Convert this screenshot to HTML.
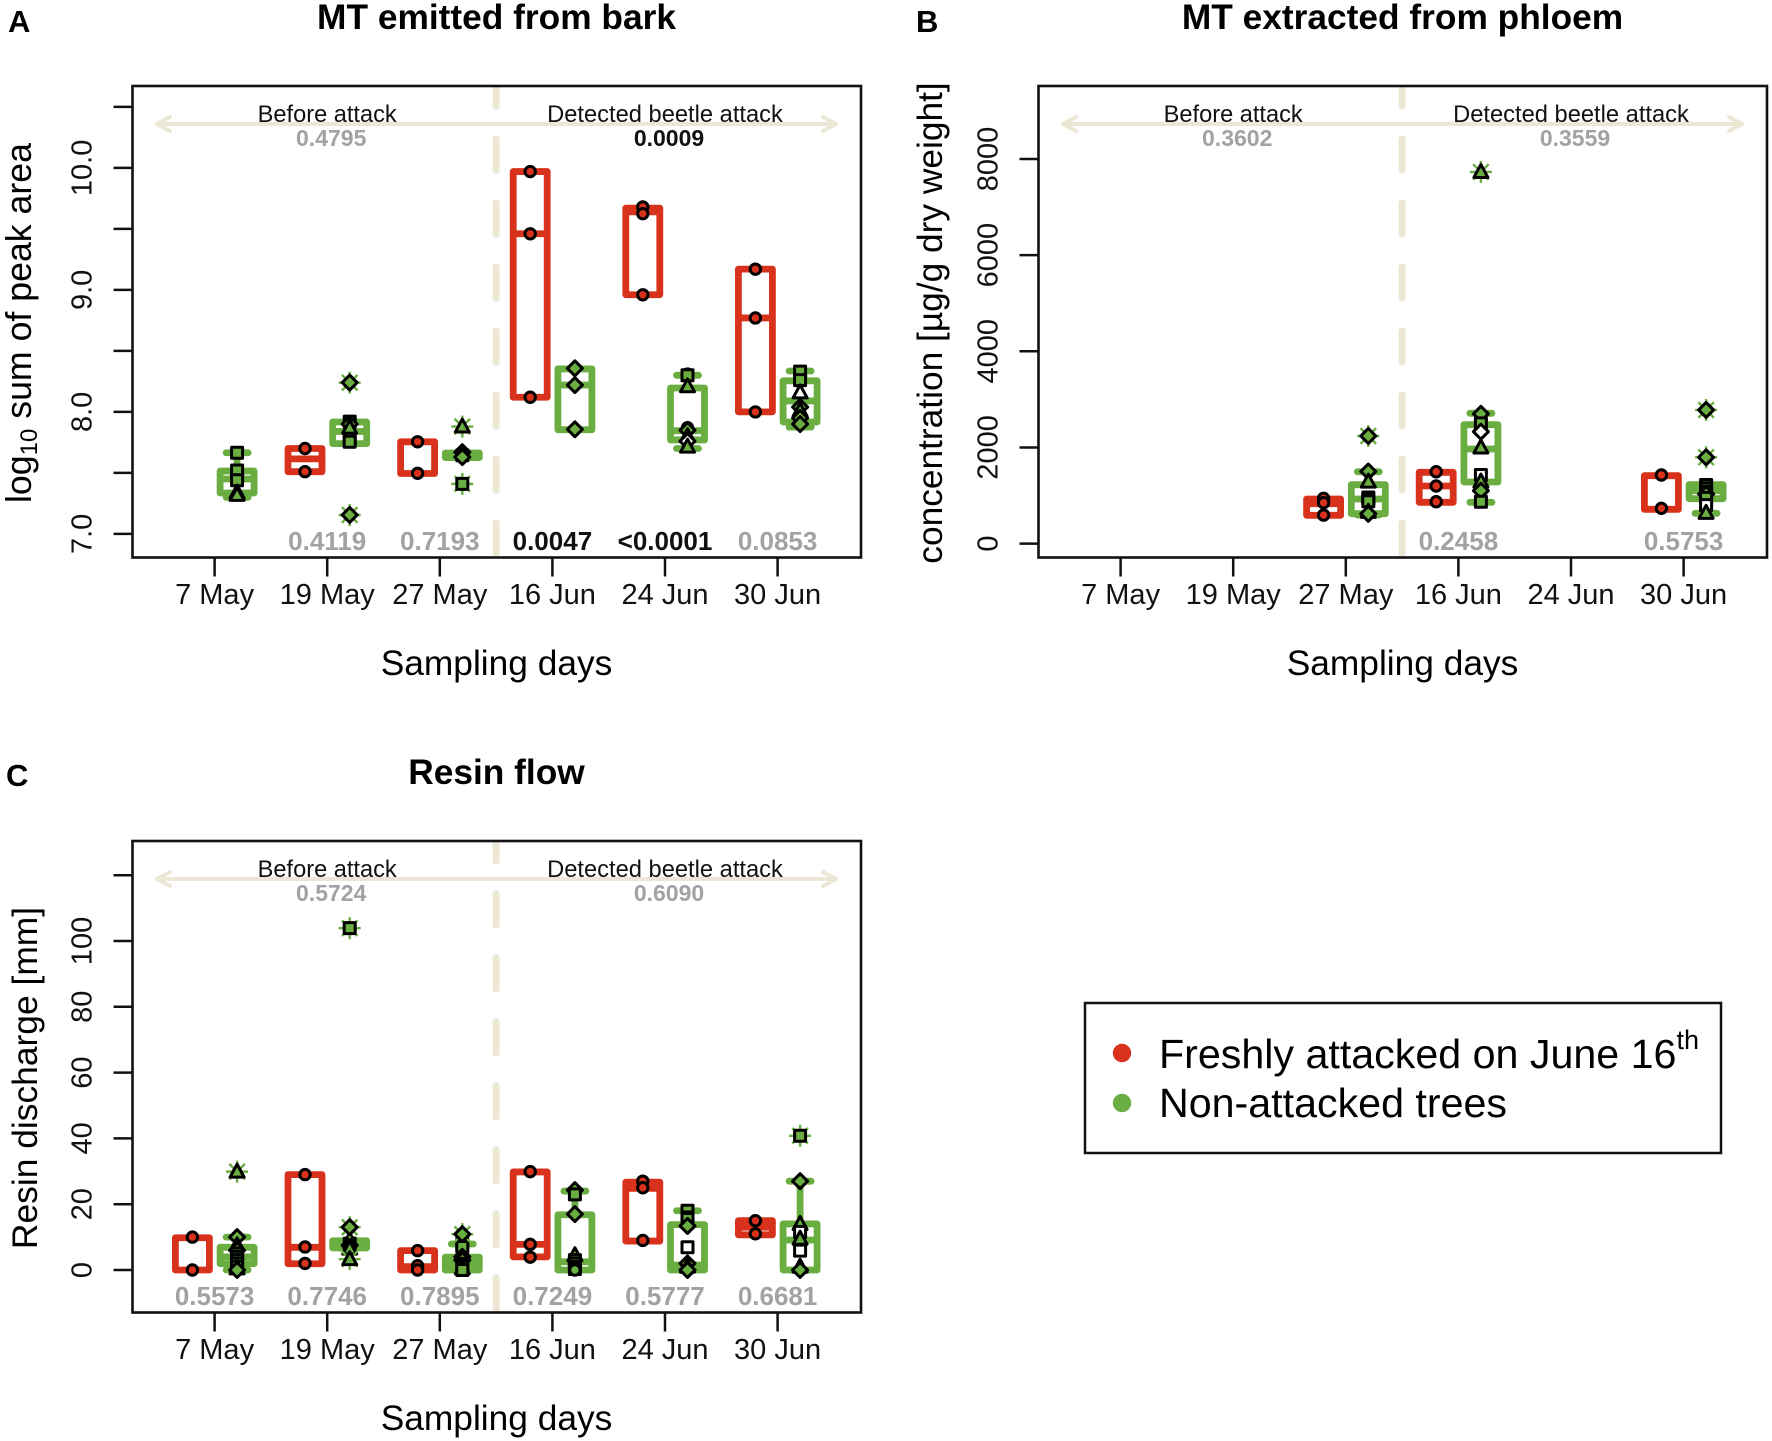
<!DOCTYPE html>
<html lang="en">
<head>
<meta charset="utf-8">
<title>Monoterpene emission, phloem concentration and resin flow</title>
<style>
html,body{margin:0;padding:0;background:#fff;width:1772px;height:1441px;overflow:hidden}
svg{display:block;font-family:"Liberation Sans",sans-serif}
</style>
</head>
<body>
<svg id="figure" width="1772" height="1441" viewBox="0 0 1772 1441" xmlns="http://www.w3.org/2000/svg">
  <rect width="1772" height="1441" fill="#fff"/>
  <g id="panel-a"></g>
  <g id="panel-b"></g>
  <g id="panel-c"></g>

  <text x="8" y="32" font-size="31" font-weight="bold">A</text>
  <text x="916" y="32" font-size="31" font-weight="bold">B</text>
  <text x="6" y="786" font-size="31" font-weight="bold">C</text>

  <text x="496.5" y="29" font-size="35.3" font-weight="bold" text-anchor="middle">MT emitted from bark</text>
  <text x="1402.5" y="29" font-size="35.3" font-weight="bold" text-anchor="middle">MT extracted from phloem</text>
  <text x="496.5" y="784" font-size="35.3" font-weight="bold" text-anchor="middle">Resin flow</text>

  <text transform="translate(31,323) rotate(-90)" font-size="35.7" text-anchor="middle">log<tspan font-size="24" dy="6">10</tspan><tspan dy="-6"> sum of peak area</tspan></text>
  <text transform="translate(942,323) rotate(-90)" font-size="35.3" text-anchor="middle">concentration [µg/g dry weight]</text>
  <text transform="translate(37,1078) rotate(-90)" font-size="35.4" text-anchor="middle">Resin discharge [mm]</text>

  <text x="496.5" y="675" font-size="35.3" text-anchor="middle">Sampling days</text>
  <text x="1402.5" y="675" font-size="35.3" text-anchor="middle">Sampling days</text>
  <text x="496.5" y="1430" font-size="35.3" text-anchor="middle">Sampling days</text>

  <g>
    <rect x="1085" y="1003" width="636" height="150" fill="#fff" stroke="#111" stroke-width="2.5"/>
    <circle cx="1122" cy="1053" r="9.2" fill="#d8321c"/>
    <circle cx="1122" cy="1103" r="9.2" fill="#6aad41"/>
    <text x="1159" y="1068" font-size="41.2">Freshly attacked on June 16<tspan font-size="27" dy="-19">th</tspan></text>
    <text x="1159" y="1117" font-size="41.2">Non-attacked trees</text>
  </g>
</svg>

<script>
const dates = ["7 May", "19 May", "27 May", "16 Jun", "24 Jun", "30 Jun"];

/* box rows: [whisker low, q1, median, q3, whisker high]; null = no box, null median = not visible */
const aTickValues = [7, 7.5, 8, 8.5, 9, 9.5, 10, 10.5];
const aTickLabels = ["7.0", "", "8.0", "", "9.0", "", "10.0", ""];
const aTopP = ["0.4795", "0.0009"];
const aBottomP = [null, "0.4119", "0.7193", "0.0047", "<0.0001", "0.0853"];
const aRedBoxes = [
  null,
  [7.51, 7.51, 7.615, 7.70, 7.70],
  [7.495, 7.495, null, 7.755, 7.755],
  [8.12, 8.12, 9.46, 9.97, 9.97],
  [8.96, 8.96, 9.64, 9.67, 9.67],
  [8.0, 8.0, 8.77, 9.17, 9.17]
];
const aRedPoints = [
  [],
  [7.70, 7.51],
  [7.755, 7.497],
  [9.97, 9.46, 8.12],
  [9.68, 9.625, 8.96],
  [9.17, 8.77, 8.0]
];
const aGreenBoxes = [
  [7.30, 7.335, 7.45, 7.515, 7.665],
  [7.74, 7.74, 7.84, 7.917, 7.917],
  [7.625, 7.625, 7.65, 7.663, 7.663],
  [7.854, 7.854, 8.22, 8.352, 8.352],
  [7.70, 7.77, 7.846, 8.196, 8.30],
  [7.875, 7.917, 8.09, 8.255, 8.335]
];
const aGreenPoints = [
  [[7.665, "S"], [7.52, "S"], [7.44, "S"], [7.34, "T"], [7.32, "T"]],
  [[7.92, "S"], [7.90, "D"], [7.87, "T"], [7.78, "S"], [7.755, "S"]],
  [[7.67, "D"], [7.655, "C"], [7.645, "s"], [7.63, "D"]],
  [[8.357, "D"], [8.22, "D"], [7.857, "D"]],
  [[8.31, "C"], [8.30, "S"], [8.21, "T"], [7.87, "C"], [7.85, "D"], [7.80, "T"], [7.76, "d"], [7.715, "T"]],
  [[8.33, "S"], [8.26, "S"], [8.16, "t"], [8.04, "D"], [8.01, "T"], [7.95, "D"], [7.90, "D"]]
];
const aGreenOutliers = [
  [],
  [[8.24, "D"], [7.155, "D"]],
  [[7.88, "T"], [7.41, "S"]],
  [],
  [],
  []
];

const bTickValues = [0, 2000, 4000, 6000, 8000];
const bTickLabels = ["0", "2000", "4000", "6000", "8000"];
const bTopP = ["0.3602", "0.3559"];
const bBottomP = [null, null, null, "0.2458", null, "0.5753"];
const bRedBoxes = [
  null,
  null,
  [588, 588, 830, 928, 928],
  [859, 859, 1198, 1483, 1483],
  null,
  [713, 713, null, 1412, 1412]
];
const bRedPoints = [
  [],
  [],
  [942, 850, 593],
  [1495, 1198, 871],
  [],
  [1427, 734]
];
const bGreenBoxes = [
  null,
  null,
  [595, 622, 928, 1225, 1495],
  [859, 1281, 1968, 2473, 2710],
  null,
  [630, 934, 1100, 1225, 1225]
];
const bGreenPoints = [
  [],
  [],
  [[1500, "D"], [1290, "T"], [960, "S"], [930, "S"], [880, "S"], [660, "T"], [620, "D"]],
  [[2700, "D"], [2500, "S"], [2327, "d"], [2000, "T"], [1427, "s"], [1290, "T"], [1100, "D"], [870, "S"]],
  [],
  [[1220, "S"], [1150, "S"], [1080, "S"], [1030, "D"], [950, "S"], [800, "s"], [640, "T"]]
];
const bGreenOutliers = [
  [],
  [],
  [[2238, "D"]],
  [[7730, "T"]],
  [],
  [[2779, "D"], [1795, "D"]]
];

const cTickValues = [0, 20, 40, 60, 80, 100, 120];
const cTickLabels = ["0", "20", "40", "60", "80", "100", ""];
const cTopP = ["0.5724", "0.6090"];
const cBottomP = ["0.5573", "0.7746", "0.7895", "0.7249", "0.5777", "0.6681"];
const cRedBoxes = [
  [0, 0, null, 9.8, 9.8],
  [1.9, 1.9, 6.9, 29, 29],
  [0, 0, 1, 5.9, 5.9],
  [4, 4, 7.8, 29.8, 29.8],
  [8.8, 8.8, 24.8, 26.7, 26.7],
  [10.7, 10.7, 13, 15, 15]
];
const cRedPoints = [
  [10, 0],
  [29, 7, 2],
  [5.9, 1.3, 0],
  [29.9, 7.8, 3.9],
  [27, 25, 9],
  [15, 11]
];
const cGreenBoxes = [
  [0, 1.9, 4, 6.9, 10],
  [6.7, 6.7, 7.8, 8.9, 8.9],
  [0, 0, 2, 3.9, 7.9],
  [0, 0, 2.5, 16.8, 24],
  [0, 0, 1.5, 13.8, 18],
  [0, 0, 9.1, 14, 27]
];
const cGreenPoints = [
  [[10, "D"], [7.5, "T"], [6, "D"], [5, "S"], [4, "S"], [3, "S"], [2, "S"], [1, "S"], [0.5, "T"], [0, "D"]],
  [[9, "T"], [8, "S"], [7.5, "D"], [7, "C"], [6.5, "T"]],
  [[8, "S"], [7, "S"], [4, "D"], [3, "D"], [2, "C"], [1, "S"], [0.5, "T"], [0, "S"]],
  [[24.3, "D"], [23, "S"], [17, "D"], [4.5, "T"], [3, "S"], [2, "S"], [1, "S"], [0.3, "S"], [0, "C"]],
  [[18, "S"], [16, "S"], [15.5, "S"], [13.4, "D"], [6.9, "s"], [2, "D"], [1, "T"], [0, "D"]],
  [[27, "D"], [14, "T"], [11.6, "s"], [9.5, "T"], [5.9, "s"], [1, "T"], [0, "D"]]
];
const cGreenOutliers = [
  [[29.9, "T"]],
  [[103.9, "S"], [13, "D"], [3.3, "T"]],
  [[10.9, "D"]],
  [],
  [],
  [[40.8, "S"]]
];

const RED = "#d8321c";
const GREEN = "#6aad41";
const SAND = "#ece7d5";
const INK = "#111";
const SVG_NS = "http://www.w3.org/2000/svg";

function make(parent, tag, attrs) {
  const el = document.createElementNS(SVG_NS, tag);
  for (const k in attrs) el.setAttribute(k, attrs[k]);
  parent.appendChild(el);
  return el;
}

function isSignificant(p) {
  return parseFloat(p.replace("<", "")) < 0.05;
}

function drawShape(parent, code, cx, cy, fillColor) {
  const kind = code.toLowerCase();
  const fill = code === kind ? "#fff" : fillColor;
  const style = { fill: fill, stroke: "#000", "stroke-width": 3, "stroke-linejoin": "round" };
  if (kind === "c") {
    return make(parent, "circle", Object.assign({ cx: cx, cy: cy, r: 5.2 }, style));
  }
  if (kind === "s") {
    return make(parent, "rect", Object.assign({ x: cx - 5.5, y: cy - 5.5, width: 11, height: 11 }, style));
  }
  if (kind === "d") {
    const pts = [cx, cy - 7.5, cx + 7.5, cy, cx, cy + 7.5, cx - 7.5, cy].join(" ");
    return make(parent, "polygon", Object.assign({ points: pts }, style));
  }
  const tri = [cx, cy - 7.5, cx + 7, cy + 5.5, cx - 7, cy + 5.5].join(" ");
  return make(parent, "polygon", Object.assign({ points: tri }, style));
}

function drawBox(parent, row, cx, y, color) {
  const half = 17;
  const capHalf = 11;
  const sw = 6.8;
  const common = { stroke: color, "stroke-width": sw, "stroke-linecap": "round", fill: "none" };
  if (row[4] > row[3]) {
    const upper = make(parent, "line", Object.assign({ x1: cx, x2: cx, y1: y(row[3]), y2: y(row[4]) }, common));
    
    
    const upperCap = make(parent, "line", Object.assign({ x1: cx - capHalf, x2: cx + capHalf, y1: y(row[4]), y2: y(row[4]) }, common));
    
    
  }
  if (row[0] < row[1]) {
    const lower = make(parent, "line", Object.assign({ x1: cx, x2: cx, y1: y(row[1]), y2: y(row[0]) }, common));
    
    
    const lowerCap = make(parent, "line", Object.assign({ x1: cx - capHalf, x2: cx + capHalf, y1: y(row[0]), y2: y(row[0]) }, common));
    
    
  }
  const body = make(parent, "rect", {
    x: cx - half, y: y(row[3]), width: half * 2, height: y(row[1]) - y(row[3]),
    fill: "none", stroke: color, "stroke-width": sw, "stroke-linejoin": "round"
  });
  
  
  if (row[2] !== null) {
    const med = make(parent, "line", { x1: cx - half, x2: cx + half, y1: y(row[2]), y2: y(row[2]), stroke: color, "stroke-width": sw });
    
    
  }
}

function drawPanel(id, dx, dy, y, tickValues, tickLabels, topP, bottomP, redBoxes, redPoints, greenBoxes, greenPoints, greenOutliers) {
  const g = document.getElementById(id);
  const left = 132.5 + dx, right = 861 + dx, top = 86 + dy, bottom = 557.5 + dy;
  const x = i => 214.6 + dx + 112.6 * i;
  const midX = (x(2) + x(3)) / 2;

  const clipId = id + "-clip";
  const clip = make(g, "clipPath", { id: clipId });
  make(clip, "rect", { x: left, y: top, width: right - left, height: bottom - top });

  const dash = make(g, "line", {
    x1: midX, x2: midX, y1: 75 + dy, y2: bottom + 6, stroke: SAND, "stroke-width": 7,
    "stroke-linecap": "round", "stroke-dasharray": "31 33", "stroke-dashoffset": 0, "clip-path": "url(#" + clipId + ")"
  });
  
  

  const ay = 124 + dy, ax1 = 157 + dx, ax2 = 836 + dx;
  const arrowStyle = { fill: "none", stroke: SAND, "stroke-width": 4, "stroke-linecap": "round", "stroke-linejoin": "round" };
  const shaft = make(g, "line", Object.assign({ x1: ax1, x2: ax2, y1: ay, y2: ay }, arrowStyle));
  
  
  const headL = make(g, "polyline", Object.assign({ points: (ax1 + 13) + "," + (ay - 7) + " " + ax1 + "," + ay + " " + (ax1 + 13) + "," + (ay + 7) }, arrowStyle));
  
  
  const headR = make(g, "polyline", Object.assign({ points: (ax2 - 13) + "," + (ay - 7) + " " + ax2 + "," + ay + " " + (ax2 - 13) + "," + (ay + 7) }, arrowStyle));
  
  

  const before = make(g, "text", { x: x(1), y: 122 + dy, "font-size": 23.6, "text-anchor": "middle", fill: INK });
  before.textContent = "Before attack";
  
  
  const detected = make(g, "text", { x: x(4), y: 122 + dy, "font-size": 23.7, "text-anchor": "middle", fill: INK });
  detected.textContent = "Detected beetle attack";
  
  

  [1, 4].forEach((col, i) => {
    const t = make(g, "text", {
      x: x(col) + 4, y: 146 + dy, "font-size": 23, "font-weight": "bold", "text-anchor": "middle",
      fill: isSignificant(topP[i]) ? INK : "#a2a2a2"
    });
    t.textContent = topP[i];
    
    
  });

  bottomP.forEach((p, i) => {
    if (p === null) return;
    const t = make(g, "text", {
      x: x(i), y: 550 + dy, "font-size": 26, "font-weight": "bold", "text-anchor": "middle",
      fill: isSignificant(p) ? INK : "#a2a2a2"
    });
    t.textContent = p;
    
    
  });

  dates.forEach((d, i) => {
    const cxR = x(i) - 22.2, cxG = x(i) + 22.5;
    if (redBoxes[i]) drawBox(g, redBoxes[i], cxR, y, RED);
    if (greenBoxes[i]) drawBox(g, greenBoxes[i], cxG, y, GREEN);

    redPoints[i].forEach(v => {
      const m = drawShape(g, "C", cxR, y(v), RED);
      
      
    });
    greenPoints[i].forEach(p => {
      const m = drawShape(g, p[1], cxG, y(p[0]), GREEN);
      
      
    });
    greenOutliers[i].forEach(p => {
      const cy = y(p[0]);
      for (let a = 0; a < 4; a++) {
        const ang = a * Math.PI / 4;
        const r = 11;
        const spoke = make(g, "line", {
          x1: cxG - r * Math.cos(ang), x2: cxG + r * Math.cos(ang),
          y1: cy - r * Math.sin(ang), y2: cy + r * Math.sin(ang),
          stroke: GREEN, "stroke-width": 2.4
        });
        
        
      }
      const m = drawShape(g, p[1], cxG, cy, GREEN);
      
      
    });

    const tick = make(g, "line", { x1: x(i), x2: x(i), y1: bottom, y2: bottom + 19, stroke: INK, "stroke-width": 2.5 });
    
    
    const lab = make(g, "text", { x: x(i), y: 604 + dy, "font-size": 29, "text-anchor": "middle", fill: INK });
    lab.textContent = d;
    
    
  });

  tickValues.forEach((v, i) => {
    const ty = y(v);
    const tick = make(g, "line", { x1: left - 19, x2: left, y1: ty, y2: ty, stroke: INK, "stroke-width": 2.5 });
    
    
    if (tickLabels[i]) {
      const lab = make(g, "text", {
        transform: "translate(" + (left - 41) + "," + ty + ") rotate(-90)",
        "font-size": 29, "text-anchor": "middle", fill: INK
      });
      lab.textContent = tickLabels[i];
      
      
    }
  });

  const frame = make(g, "rect", { x: left, y: top, width: right - left, height: bottom - top, fill: "none", stroke: INK, "stroke-width": 2.6 });
  
  
}

const yA = v => 533.9 - 122 * (v - 7);
const yB = v => 543.6 - 0.04808 * v;
const yC = v => 1270 - 3.29 * v;

drawPanel("panel-a", 0, 0, yA, aTickValues, aTickLabels, aTopP, aBottomP, aRedBoxes, aRedPoints, aGreenBoxes, aGreenPoints, aGreenOutliers);
drawPanel("panel-b", 906, 0, yB, bTickValues, bTickLabels, bTopP, bBottomP, bRedBoxes, bRedPoints, bGreenBoxes, bGreenPoints, bGreenOutliers);
drawPanel("panel-c", 0, 755, yC, cTickValues, cTickLabels, cTopP, cBottomP, cRedBoxes, cRedPoints, cGreenBoxes, cGreenPoints, cGreenOutliers);
</script>
</body>
</html>
